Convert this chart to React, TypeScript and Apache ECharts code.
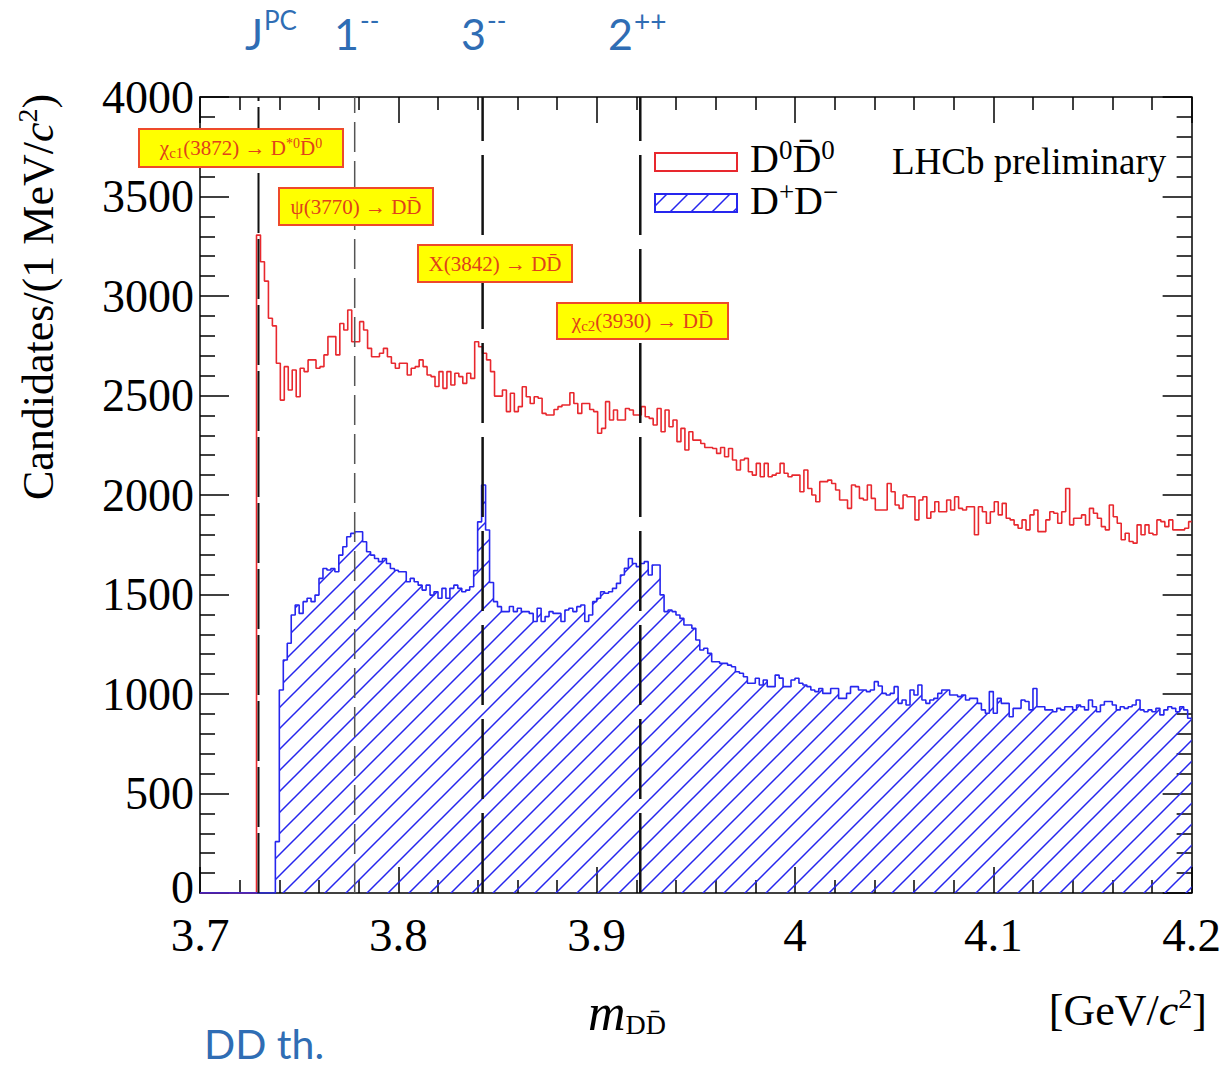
import React, { useEffect, useRef } from "react";
import * as echarts from "echarts";

// ---------- data ----------
const binWidth = 0.002; // GeV
const xMin = 3.7;
const xMax = 4.2;
const yMin = 0;
const yMax = 4000;
const xInterval = 0.1;
const yInterval = 500;

const redStart = 3.7285; // D0 D0bar histogram first bin edge
const redCounts = [
  3306, 3172, 3075, 2888, 2850, 2662, 2477, 2645, 2528, 2628,
  2494, 2637, 2620, 2679, 2679, 2637, 2645, 2704, 2796, 2796,
  2704, 2862, 2829, 2930, 2770, 2770, 2871, 2829, 2737, 2695,
  2695, 2712, 2737, 2695, 2662, 2637, 2662, 2662, 2603, 2637,
  2645, 2679, 2645, 2603, 2595, 2545, 2620, 2536, 2620, 2553,
  2612, 2595, 2561, 2612, 2586, 2770, 2745, 2712, 2679, 2620,
  2497, 2497, 2528, 2419, 2511, 2419, 2444, 2544, 2494, 2460,
  2494, 2486, 2410, 2402, 2402, 2430, 2444, 2452, 2452, 2514,
  2460, 2410, 2460, 2460, 2430, 2419, 2310, 2335, 2469, 2377,
  2427, 2377, 2377, 2435, 2427, 2402, 2402, 2444, 2393, 2385,
  2352, 2435, 2318, 2427, 2343, 2377, 2268, 2335, 2226, 2318,
  2276, 2276, 2259, 2239, 2239, 2234, 2209, 2239, 2192, 2234,
  2176, 2126, 2176, 2184, 2117, 2100, 2159, 2092, 2159, 2092,
  2100, 2109, 2159, 2109, 2092, 2100, 2100, 2016, 2126, 2033,
  2000, 1966, 2067, 2067, 2075, 2058, 2025, 1975, 1975, 1933,
  2050, 2042, 1983, 1975, 2050, 1983, 1925, 1925, 1925, 2058,
  2016, 1950, 1933, 2000, 1991, 1991, 1875, 1975, 1991, 1883,
  1916, 1966, 1916, 1916, 1975, 1925, 1991, 1933, 1925, 1941,
  1941, 1800, 1941, 1916, 1858, 1916, 1966, 1900, 1958, 1883,
  1875, 1850, 1833, 1875, 1825, 1900, 1925, 1816, 1816, 1875,
  1916, 1908, 1858, 1916, 2033, 1850, 1883, 1883, 1900, 1850,
  1933, 1908, 1883, 1841, 1825, 1950, 1891, 1858, 1775, 1808,
  1766, 1758, 1850, 1800, 1850, 1808, 1800, 1875, 1866, 1841,
  1875, 1825, 1825, 1825, 1833, 1866,
];

const blueStart = 3.738; // D+ D- histogram first bin edge
const blueCounts = [
  258, 1020, 1171, 1255, 1397, 1447, 1405, 1464, 1481, 1464,
  1497, 1581, 1631, 1623, 1631, 1614, 1698, 1740, 1790, 1807,
  1815, 1815, 1765, 1715, 1698, 1681, 1665, 1681, 1656, 1631,
  1622, 1614, 1614, 1564, 1581, 1564, 1547, 1522, 1547, 1497,
  1514, 1481, 1531, 1481, 1531, 1547, 1531, 1514, 1522, 1539,
  1620, 1865, 2050, 1824, 1560, 1464, 1439, 1414, 1414, 1440,
  1414, 1431, 1414, 1414, 1405, 1364, 1431, 1364, 1389, 1414,
  1405, 1405, 1364, 1422, 1431, 1414, 1439, 1447, 1364, 1397,
  1464, 1481, 1514, 1506, 1514, 1531, 1556, 1598, 1632, 1681,
  1656, 1640, 1656, 1665, 1598, 1648, 1648, 1498, 1414, 1422,
  1414, 1397, 1380, 1347, 1347, 1330, 1271, 1221, 1230, 1204,
  1162, 1162, 1154, 1154, 1145, 1137, 1112, 1104, 1087, 1054,
  1054, 1079, 1045, 1070, 1037, 1037, 1095, 1080, 1037, 1037,
  1070, 1079, 1054, 1045, 1037, 1020, 1012, 1028, 1003, 1003,
  1028, 1028, 978, 978, 1003, 1037, 1037, 1020, 1020, 1012,
  1020, 1062, 1040, 1003, 995, 1003, 1037, 953, 970, 945,
  1020, 995, 1045, 970, 953, 970, 978, 1003, 1020, 1020,
  995, 995, 987, 995, 970, 978, 978, 953, 920, 903,
  1012, 903, 978, 953, 953, 886, 928, 928, 970, 962,
  920, 1028, 936, 936, 920, 920, 911, 928, 920, 936,
  936, 920, 945, 936, 920, 970, 936, 911, 945, 962,
  962, 945, 920, 936, 928, 936, 945, 970, 920, 911,
  920, 911, 928, 895, 920, 936, 928, 911, 936, 920,
  878,
];

// vertical reference lines: DD threshold, psi(3770), X(3842), chi_c2(3930)
const resonanceMasses = [3.7295, 3.778, 3.8425, 3.922];
const resonanceColors = ["#111111", "#555555", "#111111", "#111111"];
const resonanceWidths = [2, 1.5, 2.5, 2.5];
const resonanceDashes = [
  [60, 6],
  [30, 9],
  [80, 14],
  [80, 14],
];

const legendNames = ["D0D0bar", "D+D-"];

// ---------- helpers ----------
function histPoints(start: number, counts: number[]): number[][] {
  const pts: number[][] = [[xMin, 0]];
  counts.forEach((c, i) => {
    pts.push([+(start + i * binWidth).toFixed(4), c]);
  });
  pts.push([xMax, counts[counts.length - 1]]);
  return pts;
}

const SERIF = '"Liberation Serif", "Times New Roman", serif';
const SANS = 'Lato, "Open Sans", sans-serif';
const RED = "#E8282E";
const BLUE = "#2626EE";
const LABEL_BLUE = "#2F6DB4";
const BOX_TEXT = "#E0421A";

export default function App() {
  const ref = useRef<HTMLDivElement>(null);

  useEffect(() => {
    document.body.style.margin = "0";
    const chart = echarts.init(ref.current!, null, { renderer: "svg" });

    // hatch tile
    const cv = document.createElement("canvas");
    cv.width = 21;
    cv.height = 21;
    const ctx = cv.getContext("2d")!;
    ctx.strokeStyle = BLUE;
    ctx.lineWidth = 1.5;
    ctx.beginPath();
    ctx.moveTo(-2, 23);
    ctx.lineTo(23, -2);
    ctx.moveTo(-2, 2);
    ctx.lineTo(2, -2);
    ctx.moveTo(19, 23);
    ctx.lineTo(23, 19);
    ctx.stroke();
    const hatch: any = {
      image: cv.toDataURL(),
      repeat: "repeat",
      imageWidth: 21,
      imageHeight: 21,
    };

    const axisLineStyle = { color: "#000", width: 1.5 };
    const xAxisBase = {
      type: "value",
      min: xMin,
      max: xMax,
      interval: xInterval,
      splitLine: { show: false },
      minorSplitLine: { show: false },
      axisLine: { show: true, onZero: false, lineStyle: axisLineStyle },
      axisTick: { show: true, inside: true, length: 26, lineStyle: axisLineStyle },
      minorTick: { show: true, splitNumber: 5, length: 13, lineStyle: axisLineStyle },
    };
    const yAxisBase = {
      type: "value",
      min: yMin,
      max: yMax,
      interval: yInterval,
      splitLine: { show: false },
      minorSplitLine: { show: false },
      axisLine: { show: true, onZero: false, lineStyle: axisLineStyle },
      axisTick: { show: true, inside: true, length: 29, lineStyle: axisLineStyle },
      minorTick: { show: true, splitNumber: 5, length: 15, lineStyle: axisLineStyle },
    };

    const boxes = [
      { x: 139, y: 129, w: 204, h: 38, text: "{g|χ}{sub|c1}{g|(3872) → D}{sup|*0}{g|D\u0304}{sup|0}" },
      { x: 279, y: 188, w: 154, h: 37, text: "{g|ψ(3770) → DD\u0304}" },
      { x: 418, y: 245, w: 154, h: 37, text: "{g|X(3842) → DD\u0304}" },
      { x: 557, y: 303, w: 171, h: 36, text: "{g|χ}{sub|c2}{g|(3930) → DD\u0304}" },
    ];
    const boxRich = {
      g: { fontFamily: SERIF, fontSize: 21, fill: BOX_TEXT, lineHeight: 24 },
      sub: { fontFamily: SERIF, fontSize: 15, fill: BOX_TEXT, lineHeight: 15, verticalAlign: "bottom" },
      sup: { fontFamily: SERIF, fontSize: 14, fill: BOX_TEXT, lineHeight: 14, verticalAlign: "top" },
    };

    const graphics: any[] = [];
    boxes.forEach((b) => {
      graphics.push({
        type: "rect",
        shape: { x: b.x, y: b.y, width: b.w, height: b.h },
        style: { fill: "#FFFF00", stroke: "#EE4A2A", lineWidth: 2 },
        z: 100,
      });
      graphics.push({
        type: "text",
        x: b.x + b.w / 2,
        y: b.y + b.h / 2,
        style: { text: b.text, align: "center", verticalAlign: "middle", rich: boxRich },
        z: 101,
      });
    });

    // legend
    graphics.push(
      {
        type: "rect",
        shape: { x: 655, y: 153, width: 82, height: 18 },
        style: { fill: "#fff", stroke: RED, lineWidth: 2 },
        z: 100,
      },
      {
        type: "rect",
        shape: { x: 655, y: 194, width: 82, height: 18 },
        style: { fill: hatch, stroke: BLUE, lineWidth: 2 },
        z: 100,
      },
      {
        type: "text",
        x: 750,
        y: 158,
        style: {
          text: "{m|D}{s|0}{m|D\u0304}{s|0}",
          align: "left",
          verticalAlign: "middle",
          rich: {
            m: { fontFamily: SERIF, fontSize: 40, fill: "#000", lineHeight: 44 },
            s: { fontFamily: SERIF, fontSize: 27, fill: "#000", lineHeight: 27, verticalAlign: "top" },
          },
        },
        z: 100,
      },
      {
        type: "text",
        x: 750,
        y: 200,
        style: {
          text: "{m|D}{s|+}{m|D}{s|−}",
          align: "left",
          verticalAlign: "middle",
          rich: {
            m: { fontFamily: SERIF, fontSize: 40, fill: "#000", lineHeight: 44 },
            s: { fontFamily: SERIF, fontSize: 27, fill: "#000", lineHeight: 27, verticalAlign: "top" },
          },
        },
        z: 100,
      },
      {
        type: "text",
        x: 892,
        y: 161,
        style: {
          text: "LHCb preliminary",
          fontFamily: SERIF,
          fontSize: 37,
          fill: "#000",
          align: "left",
          verticalAlign: "middle",
        },
        z: 100,
      }
    );

    // axis titles
    graphics.push(
      {
        type: "text",
        x: 38,
        y: 297,
        rotation: Math.PI / 2,
        style: {
          text: "{n|Candidates/(1 MeV/}{i|c}{s|2}{n|)}",
          align: "center",
          verticalAlign: "middle",
          rich: {
            n: { fontFamily: SERIF, fontSize: 44, fill: "#000", lineHeight: 50 },
            i: { fontFamily: SERIF, fontSize: 44, fontStyle: "italic", fill: "#000", lineHeight: 50 },
            s: { fontFamily: SERIF, fontSize: 28, fill: "#000", lineHeight: 30, verticalAlign: "top" },
          },
        },
      },
      {
        type: "text",
        x: 588,
        y: 1012,
        style: {
          text: "{i|m}{s|DD\u0304}",
          align: "left",
          verticalAlign: "middle",
          rich: {
            i: { fontFamily: SERIF, fontSize: 52, fontStyle: "italic", fill: "#000", lineHeight: 52 },
            s: { fontFamily: SERIF, fontSize: 28, fill: "#000", lineHeight: 28, verticalAlign: "bottom" },
          },
        },
      },
      {
        type: "text",
        x: 1207,
        y: 1010,
        style: {
          text: "{n|[GeV/}{i|c}{s|2}{n|]}",
          align: "right",
          verticalAlign: "middle",
          rich: {
            n: { fontFamily: SERIF, fontSize: 44, fill: "#000", lineHeight: 52 },
            i: { fontFamily: SERIF, fontSize: 44, fontStyle: "italic", fill: "#000", lineHeight: 52 },
            s: { fontFamily: SERIF, fontSize: 28, fill: "#000", lineHeight: 30, verticalAlign: "top" },
          },
        },
      }
    );

    // blue annotation texts (J^PC labels and threshold)
    const mainLbl = (x: number, t: string) => ({
      type: "text",
      x,
      y: 33,
      style: { text: t, fontFamily: SANS, fontSize: 43, fill: LABEL_BLUE, align: "left", verticalAlign: "middle" },
    });
    const supLbl = (x: number, y: number, t: string, fs: number) => ({
      type: "text",
      x,
      y,
      style: { text: t, fontFamily: SANS, fontSize: fs, fill: LABEL_BLUE, align: "left", verticalAlign: "middle" },
    });
    graphics.push(
      mainLbl(245, "J"),
      supLbl(264, 20, "PC", 26),
      mainLbl(334, "1"),
      supLbl(360, 20, "--", 26),
      mainLbl(461, "3"),
      supLbl(487, 20, "--", 26),
      mainLbl(608, "2"),
      supLbl(634, 21, "++", 28),
      {
        type: "text",
        x: 204,
        y: 1043,
        style: { text: "DD th.", fontFamily: SANS, fontSize: 41, fill: LABEL_BLUE, align: "left", verticalAlign: "middle" },
      }
    );

    const option: any = {
      animation: false,
      backgroundColor: "#fff",
      grid: { left: 200, top: 97, width: 993, height: 796, containLabel: false },
      xAxis: [
        {
          ...xAxisBase,
          position: "bottom",
          axisLabel: {
            show: true,
            fontFamily: SERIF,
            fontSize: 47,
            lineHeight: 38,
            color: "#000",
            margin: 23,
            formatter: (v: number) => String(+v.toFixed(1)),
          },
        },
        { ...xAxisBase, position: "top", axisLabel: { show: false } },
      ],
      yAxis: [
        {
          ...yAxisBase,
          position: "left",
          axisLabel: {
            show: true,
            fontFamily: SERIF,
            fontSize: 46,
            lineHeight: 36,
            color: "#000",
            margin: 6,
            formatter: (v: number) => (v === 0 ? "{z|0}" : String(v)),
            rich: {
              z: { fontFamily: SERIF, fontSize: 46, lineHeight: 36, color: "#000", padding: [0, 0, 12, 0] },
            },
          },
        },
        { ...yAxisBase, position: "right", axisLabel: { show: false } },
      ],
      series: [
        {
          name: legendNames[0],
          type: "line",
          data: histPoints(redStart, redCounts),
          step: "end",
          symbol: "none",
          silent: true,
          lineStyle: { color: RED, width: 1.6 },
          z: 2,
        },
        {
          name: legendNames[1],
          type: "line",
          data: histPoints(blueStart, blueCounts),
          step: "end",
          symbol: "none",
          silent: true,
          lineStyle: { color: BLUE, width: 1.6 },
          areaStyle: { color: hatch, opacity: 1 },
          z: 3,
        },
        ...resonanceMasses.map((m, i) => ({
          type: "line",
          data: [
            [m, yMin],
            [m, yMax],
          ],
          symbol: "none",
          silent: true,
          lineStyle: { color: resonanceColors[i], width: resonanceWidths[i], type: resonanceDashes[i] },
          z: 4,
        })),
      ],
      graphic: graphics,
    };

    chart.setOption(option);
    return () => chart.dispose();
  }, []);

  return <div ref={ref} style={{ width: 1224, height: 1068 }} />;
}
